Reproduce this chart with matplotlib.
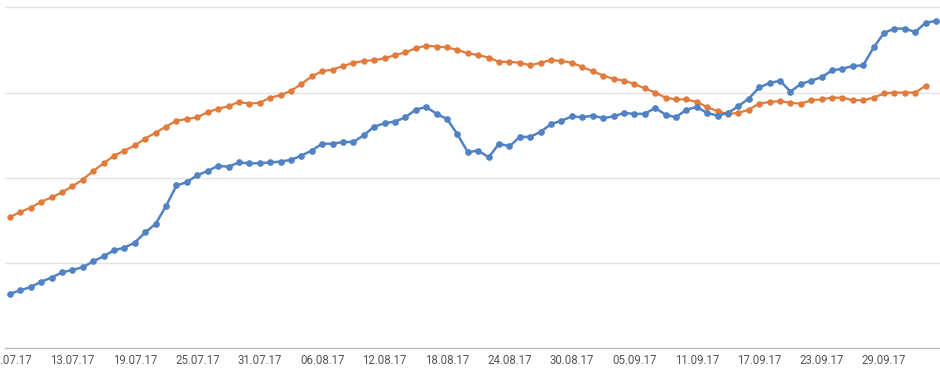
import matplotlib
matplotlib.use("Agg")
import matplotlib.pyplot as plt
import matplotlib.dates as mdates
import pandas as pd

start_date = "2017-07-07"

blue_values = [64, 68, 72, 78, 83, 89, 92, 95, 102, 108, 115, 118, 124, 136, 146, 167, 191, 195, 203, 208,
               214, 213, 218, 217, 217, 218, 219, 221, 226,
               232, 240, 240, 242, 242, 250, 260, 264, 266, 271, 280, 283, 275, 269, 251, 230, 232, 224, 240, 237,
               248, 248, 254, 263, 267, 272, 271, 273, 270, 272, 276,
               275, 275, 282, 274, 271, 280, 283, 276, 273, 276, 284, 293, 306, 311, 314, 301, 310, 314, 318, 326,
               328, 331, 332, 353, 370, 375, 375, 371, 382, 384]

orange_values = [154, 160, 165, 172, 177, 183, 190, 198, 208, 217, 226, 232, 238, 246, 253, 260, 267, 269, 271, 277,
                 281, 284, 289, 287, 288, 294, 297, 302, 310,
                 319, 325, 327, 331, 335, 337, 338, 340, 344, 347, 352, 355, 354, 353, 350, 346, 344, 341, 336, 336,
                 335, 332, 335, 338, 337, 335, 330, 325, 320, 316, 314,
                 310, 305, 300, 294, 292, 292, 289, 283, 278, 275, 276, 280, 287, 289, 290, 288, 287, 291, 292, 294,
                 294, 291, 291, 294, 299, 300, 300, 300, 308]

tick_labels = ["07.07.17", "13.07.17", "19.07.17", "25.07.17", "31.07.17", "06.08.17", "12.08.17", "18.08.17",
               "24.08.17", "30.08.17", "05.09.17", "11.09.17", "17.09.17", "23.09.17", "29.09.17"]

y_grid = [0, 100, 200, 300, 400]

blue_dates = pd.date_range(start_date, periods=len(blue_values), freq="D")
orange_dates = pd.date_range(start_date, periods=len(orange_values), freq="D")
tick_dates = pd.to_datetime(tick_labels, format="%d.%m.%y")

fig = plt.figure(figsize=(9.4, 3.69), dpi=100)
ax = fig.add_axes([5 / 940, 20.7 / 369, 935 / 940, 343.3 / 369])

blue = "#5182c4"
orange = "#e07b3b"

ax.plot(orange_dates, orange_values, color=orange, lw=1.6, marker="o", ms=3.6, mec=orange, mfc=orange, zorder=3)
ax.plot(blue_dates, blue_values, color=blue, lw=1.8, marker="o", ms=3.8, mec=blue, mfc=blue, zorder=4)

x0 = blue_dates[0]
ax.set_xlim(x0 - pd.Timedelta(hours=11.5), blue_dates[-1] + pd.Timedelta(hours=9))
ax.set_ylim(0, 402.7)

ax.set_yticks(y_grid)
ax.set_yticklabels([])
ax.tick_params(axis="y", length=0)
ax.grid(axis="y", color="#e3e3e3", lw=1)
ax.set_axisbelow(True)

ax.set_xticks(tick_dates)
ax.set_xticklabels(tick_labels, fontsize=8.3, color="#555555", family=["Roboto", "DejaVu Sans"])
ax.tick_params(axis="x", length=0, pad=4)

for s in ["top", "right", "left"]:
    ax.spines[s].set_visible(False)
ax.spines["bottom"].set_color("#bdbdbd")
ax.spines["bottom"].set_linewidth(1)

fig.savefig("out.png", dpi=100)
